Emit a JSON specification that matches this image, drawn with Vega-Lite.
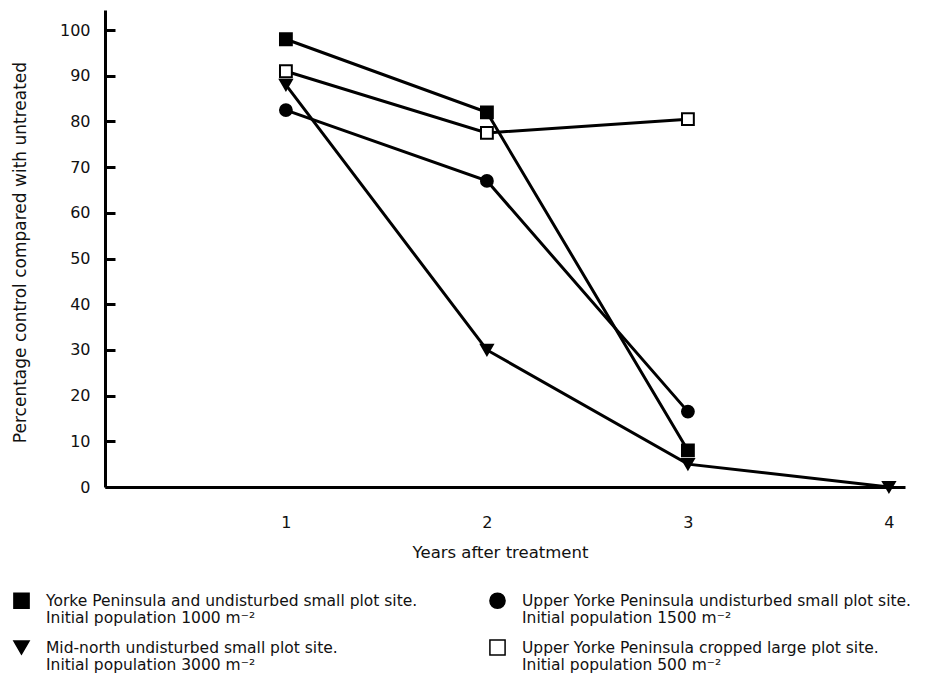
{
  "$schema": "https://vega.github.io/schema/vega-lite/v6.json",
  "width": 800,
  "height": 477,
  "autosize": "none",
  "padding": {"left": 105, "top": 10, "right": 29, "bottom": 191},
  "background": "white",
  "config": {
    "view": {"stroke": null},
    "font": "DejaVu Sans",
    "axis": {
      "domainColor": "black",
      "domainWidth": 3,
      "tickColor": "black",
      "tickWidth": 3,
      "grid": false,
      "labelColor": "#111111",
      "titleColor": "#111111",
      "labelFont": "DejaVu Sans",
      "titleFont": "DejaVu Sans",
      "titleFontWeight": "normal",
      "labelFontSize": 16,
      "titleFontSize": 16.5
    }
  },
  "data": {
    "values": [
      {"site": "Yorke Peninsula and undisturbed small plot site.", "year": 1, "pct": 98},
      {"site": "Yorke Peninsula and undisturbed small plot site.", "year": 2, "pct": 82},
      {"site": "Yorke Peninsula and undisturbed small plot site.", "year": 3, "pct": 8},
      {"site": "Upper Yorke Peninsula undisturbed small plot site.", "year": 1, "pct": 82.5},
      {"site": "Upper Yorke Peninsula undisturbed small plot site.", "year": 2, "pct": 67},
      {"site": "Upper Yorke Peninsula undisturbed small plot site.", "year": 3, "pct": 16.5},
      {"site": "Mid-north undisturbed small plot site.", "year": 1, "pct": 88},
      {"site": "Mid-north undisturbed small plot site.", "year": 2, "pct": 30},
      {"site": "Mid-north undisturbed small plot site.", "year": 3, "pct": 5},
      {"site": "Mid-north undisturbed small plot site.", "year": 4, "pct": 0},
      {"site": "Upper Yorke Peninsula cropped large plot site.", "year": 1, "pct": 91},
      {"site": "Upper Yorke Peninsula cropped large plot site.", "year": 2, "pct": 77.5},
      {"site": "Upper Yorke Peninsula cropped large plot site.", "year": 3, "pct": 80.5}
    ]
  },
  "encoding": {
    "x": {
      "field": "year", "type": "quantitative",
      "scale": {"domain": [0.1, 4.08], "nice": false, "zero": false},
      "axis": {
        "title": "Years after treatment",
        "values": [1, 2, 3, 4],
        "ticks": false,
        "labelPadding": 27,
        "titleX": 395, "titleY": 65, "titleAlign": "center", "titleBaseline": "middle"
      }
    },
    "y": {
      "field": "pct", "type": "quantitative",
      "scale": {"domain": [0, 104.4], "nice": false},
      "axis": {
        "title": "Percentage control compared with untreated",
        "values": [0, 10, 20, 30, 40, 50, 60, 70, 80, 90, 100],
        "tickSize": -10,
        "labelPadding": 25,
        "titleFontSize": 17,
        "titleX": -85, "titleY": 242, "titleAlign": "center", "titleBaseline": "middle", "titleAngle": -90
      }
    }
  },
  "layer": [
    {
      "mark": {"type": "line", "color": "black", "strokeWidth": 3},
      "encoding": {"detail": {"field": "site"}}
    },
    {
      "mark": {"type": "point", "stroke": "black", "strokeWidth": 2, "opacity": 1, "size": 140},
      "encoding": {
        "shape": {
          "field": "site", "type": "nominal",
          "scale": {
            "domain": [
              "Yorke Peninsula and undisturbed small plot site.",
              "Upper Yorke Peninsula undisturbed small plot site.",
              "Mid-north undisturbed small plot site.",
              "Upper Yorke Peninsula cropped large plot site."
            ],
            "range": ["square", "circle", "triangle-down", "square"]
          },
          "legend": {
            "title": null,
            "orient": "none",
            "legendX": -92,
            "legendY": 582,
            "padding": 0,
            "direction": "horizontal",
            "columns": 2,
            "columnPadding": 68,
            "rowPadding": 9,
            "symbolSize": 230,
            "labelFont": "DejaVu Sans",
            "labelFontSize": 15.5,
            "labelColor": "#111111",
            "labelOffset": 16,
            "labelLimit": 600,
            "labelExpr": "datum.label == 'Yorke Peninsula and undisturbed small plot site.' ? [datum.label, 'Initial population 1000 m⁻²'] : datum.label == 'Upper Yorke Peninsula undisturbed small plot site.' ? [datum.label, 'Initial population 1500 m⁻²'] : datum.label == 'Mid-north undisturbed small plot site.' ? [datum.label, 'Initial population 3000 m⁻²'] : [datum.label, 'Initial population 500 m⁻²']",
            "encode": {
              "labels": {"lineHeight": {"value": 21}},
              "symbols": {"stroke": {"value": "black"}, "strokeWidth": {"value": 1.5}}
            }
          }
        },
        "fill": {
          "field": "site", "type": "nominal",
          "scale": {
            "domain": [
              "Yorke Peninsula and undisturbed small plot site.",
              "Upper Yorke Peninsula undisturbed small plot site.",
              "Mid-north undisturbed small plot site.",
              "Upper Yorke Peninsula cropped large plot site."
            ],
            "range": ["black", "black", "black", "white"]
          },
          "legend": null
        }
      }
    }
  ]
}
